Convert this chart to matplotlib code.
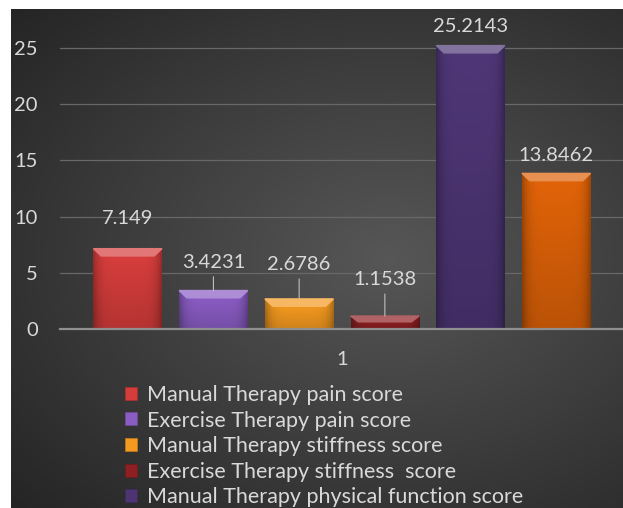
import numpy as np
import matplotlib
matplotlib.use('Agg')
import matplotlib.pyplot as plt
from matplotlib.patches import Polygon, Patch
from matplotlib.colors import to_rgb

# data
series = ['Manual Therapy pain score', 'Exercise Therapy pain score',
          'Manual Therapy stiffness score', 'Exercise Therapy stiffness  score',
          'Manual Therapy physical function score',
          'Exercise Therapy physical function score']
values = [7.149, 3.4231, 2.6786, 1.1538, 25.2143, 13.8462]
value_text = ['7.149', '3.4231', '2.6786', '1.1538', '25.2143', '13.8462']
colors = ['#d43d3b', '#8a5cc4', '#f59a20', '#8e1f22', '#4d3574', '#dc6108']
category = ['1']
yticks = [0, 5, 10, 15, 20, 25]

plt.rcParams['font.family'] = ['Lato', 'DejaVu Sans']
txt = '#d9d9d9'

fig = plt.figure(figsize=(6.23, 5.08), dpi=100)
fig.patch.set_facecolor('white')

# dark gradient background
bg = fig.add_axes([11/623, 0, 612/623, 499/508])
bg.set_axis_off()
yy, xx = np.mgrid[0:1:200j, 0:1:240j]
r = np.sqrt(((xx - 0.62) / 0.9)**2 + ((yy - 0.5) / 0.8)**2)
shade = np.clip(0.34 - 0.21 * r, 0.12, 0.35)
bg.imshow(np.dstack([shade]*3), aspect='auto', extent=(0, 1, 0, 1))
bg.set_xlim(0, 1)
bg.set_ylim(0, 1)

ax = fig.add_axes([60/623, 179/508, 564/623, 320/508])
ax.set_facecolor('none')
x = np.arange(len(values))
w = 0.8
bars = ax.bar(x, values, w, color=colors, zorder=2)

# shaded bars with a light bevel on top
for xi, v, c, b in zip(x, values, colors, bars):
    base = np.array(to_rgb(c))
    gx = np.linspace(0, 1, 40)
    gy = np.linspace(1, 0, 60)
    hf = 1 - 0.28 * np.abs(2 * gx - 1)**6
    vf = 0.85 + 0.18 * gy
    img = np.clip(base[None, None, :] * vf[:, None, None] * hf[None, :, None], 0, 1)
    im = ax.imshow(img, extent=(xi - w/2, xi + w/2, 0, v), aspect='auto', zorder=3)
    im.set_clip_path(b)
    top = base + (1 - base) * 0.3
    dx = 0.09
    dh = min(0.65, v * 0.45)
    ax.add_patch(Polygon([(xi - w/2, v), (xi + w/2, v), (xi + w/2 - dx, v - dh),
                          (xi - w/2 + dx, v - dh)], closed=True, color=top, zorder=4))

# value labels (some with leader lines)
offsets = [22, 20, 24.5, 26, 14, 13]
leaders = [False, True, True, True, False, False]
for xi, v, t, o, ld in zip(x, values, value_text, offsets, leaders):
    ap = dict(arrowstyle='-', color='#bfbfbf', lw=0.8, shrinkA=2, shrinkB=0) if ld else None
    ax.annotate(t, xy=(xi, v), xytext=(0, o), textcoords='offset points',
                ha='center', va='center', color=txt, fontsize=14.5,
                arrowprops=ap, zorder=5)

ax.set_xlim(-0.79, 5.79)
ax.set_ylim(0, 28.47)
ax.set_yticks(yticks)
ax.set_xticks([2.5])
ax.set_xticklabels(category)
ax.tick_params(axis='both', length=0, labelsize=14.5, labelcolor=txt)
ax.tick_params(axis='y', pad=16)
ax.tick_params(axis='x', pad=16)
ax.grid(axis='y', color='#686868', lw=0.9, zorder=0)
for s in ['top', 'right', 'left']:
    ax.spines[s].set_visible(False)
ax.spines['bottom'].set_color('#909090')
ax.spines['bottom'].set_linewidth(1.6)
ax.spines['bottom'].set_zorder(6)

# only the first five legend rows fit inside the picture
shown = 5
handles = [Patch(facecolor=c, edgecolor=np.array(to_rgb(c)) * 0.8, lw=0.5) for c in colors]
fig.legend(handles[:shown], series[:shown], loc='upper left',
           bbox_to_anchor=(125/623, 1 - 385/508),
           frameon=False, fontsize=15.5, labelcolor=txt, handlelength=0.55,
           handleheight=0.55, handletextpad=0.45, labelspacing=0.26, borderpad=0,
           borderaxespad=0)

fig.savefig('out.png', dpi=100)
